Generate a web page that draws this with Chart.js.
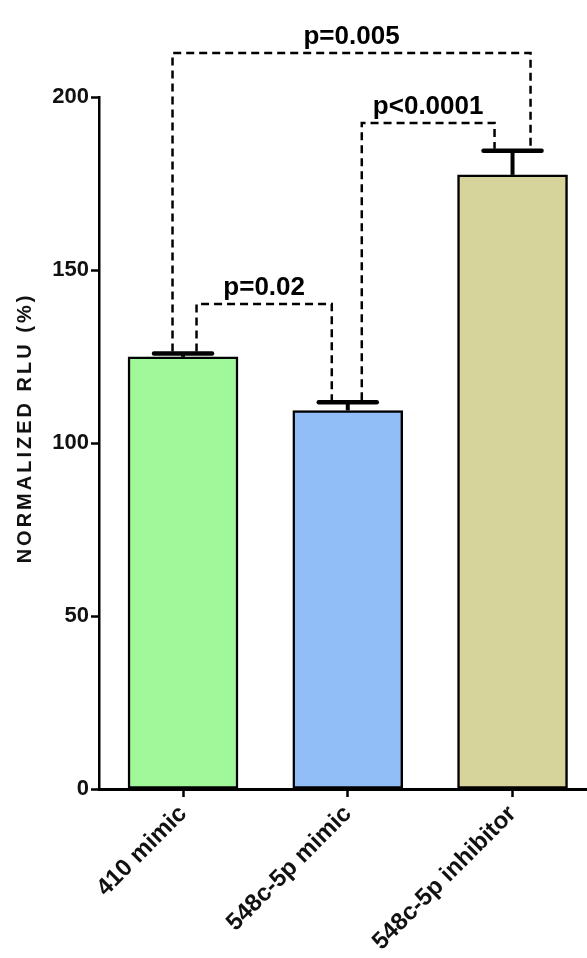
<!DOCTYPE html>
<html>
<head>
<meta charset="utf-8">
<script src="https://cdn.jsdelivr.net/npm/chart.js@4.4.1/dist/chart.umd.min.js"></script>
<style>
  html, body { margin: 0; padding: 0; background: #ffffff; }
  #wrap { width: 587px; height: 958px; }
</style>
</head>
<body>
<div id="wrap"><canvas id="c" width="587" height="958"></canvas></div>
<script>
// ---- data ----
const categories = ['410 mimic', '548c-5p mimic', '548c-5p inhibitor'];
const means = [124.9, 109.4, 177.5];
const errors = [1.0, 2.4, 7.0];
const barColors = ['#a0f89b', '#91bef6', '#d6d39b'];
const yTicks = [0, 50, 100, 150, 200];
const yTitle = 'NORMALIZED RLU (%)';
// significance brackets: between categories, bracket height (y units), label
const bracketFrom = [0, 1, 0];
const bracketTo = [1, 2, 2];
const bracketLevel = [140.2, 192.5, 212.7];
const bracketLabel = ['p=0.02', 'p<0.0001', 'p=0.005'];

// style: horizontal offsets (px) of bracket legs from bar centres
const legOffsets = [[13.5, -16], [14, -18], [-10.5, 18]];

const FONT = '"Liberation Sans", Arial, sans-serif';

const errorBarPlugin = {
  id: 'errorBars',
  afterDatasetsDraw(chart) {
    const ctx = chart.ctx;
    const meta = chart.getDatasetMeta(0);
    const ys = chart.scales.y;
    ctx.save();
    ctx.strokeStyle = '#000';
    meta.data.forEach((bar, i) => {
      const yTop = ys.getPixelForValue(means[i] + errors[i]);
      const yBar = ys.getPixelForValue(means[i]);
      ctx.lineWidth = 4;
      ctx.beginPath();
      ctx.moveTo(bar.x, yBar);
      ctx.lineTo(bar.x, yTop);
      ctx.stroke();
      ctx.lineWidth = 4.5;
      ctx.lineCap = 'round';
      ctx.beginPath();
      ctx.moveTo(bar.x - 29, yTop);
      ctx.lineTo(bar.x + 29, yTop);
      ctx.stroke();
      ctx.lineCap = 'butt';
    });
    ctx.restore();
  }
};

const bracketPlugin = {
  id: 'brackets',
  afterDraw(chart) {
    const ctx = chart.ctx;
    const meta = chart.getDatasetMeta(0);
    const ys = chart.scales.y;
    ctx.save();
    ctx.strokeStyle = '#000';
    ctx.fillStyle = '#000';
    ctx.lineWidth = 2.5;
    ctx.setLineDash([8, 5]);
    bracketLabel.forEach((lab, k) => {
      const a = bracketFrom[k], b = bracketTo[k];
      const xa = meta.data[a].x + legOffsets[k][0];
      const xb = meta.data[b].x + legOffsets[k][1];
      const yl = ys.getPixelForValue(bracketLevel[k]);
      const ya = ys.getPixelForValue(means[a] + errors[a]) - 2;
      const yb = ys.getPixelForValue(means[b] + errors[b]) - 2;
      ctx.beginPath();
      ctx.moveTo(xa, ya);
      ctx.lineTo(xa, yl);
      ctx.lineTo(xb, yl);
      ctx.lineTo(xb, yb);
      ctx.stroke();
      ctx.font = 'bold 26px ' + FONT;
      ctx.textAlign = 'center';
      ctx.textBaseline = 'alphabetic';
      ctx.fillText(lab, (xa + xb) / 2, yl - 9);
    });
    ctx.restore();
  }
};

const titlePlugin = {
  id: 'yTitle',
  afterDraw(chart) {
    const ctx = chart.ctx;
    ctx.save();
    ctx.translate(25, 428);
    ctx.rotate(-Math.PI / 2);
    ctx.font = 'bold 20px ' + FONT;
    if ('letterSpacing' in ctx) ctx.letterSpacing = '3px';
    ctx.fillStyle = '#111';
    ctx.textAlign = 'center';
    ctx.textBaseline = 'middle';
    ctx.fillText(yTitle, 0, 0);
    ctx.restore();
  }
};

new Chart(document.getElementById('c'), {
  type: 'bar',
  data: {
    datasets: [{
      data: means.map((v, i) => ({ x: i, y: v })),
      backgroundColor: barColors,
      borderColor: '#000',
      borderWidth: 2.5,
      borderSkipped: false,
      barThickness: 110
    }]
  },
  options: {
    responsive: false,
    animation: false,
    devicePixelRatio: 1,
    layout: { padding: { top: 97, right: 0, bottom: 0, left: 0 } },
    plugins: { legend: { display: false }, tooltip: { enabled: false } },
    scales: {
      x: {
        type: 'linear',
        offset: false,
        min: -0.51,
        max: 2.452,
        afterFit(s) { s.height = 169; },
        grid: { display: true, offset: false, drawOnChartArea: false, drawTicks: true, tickLength: 8, tickWidth: 2.5, tickColor: '#000' },
        border: { display: true, color: '#000', width: 3 },
        ticks: {
          stepSize: 1,
          includeBounds: false,
          autoSkip: false,
          maxRotation: 45,
          minRotation: 45,
          padding: 3,
          color: '#111',
          font: { family: FONT, size: 24, weight: 'bold' },
          callback: (v) => (Number.isInteger(v) && categories[v] !== undefined) ? categories[v] : ''
        }
      },
      y: {
        min: 0,
        max: 200,
        afterFit(s) { s.width = 99; },
        afterBuildTicks(s) { s.ticks = yTicks.map(v => ({ value: v })); },
        grid: { display: true, drawOnChartArea: false, drawTicks: true, tickLength: 8, tickWidth: 2.5, tickColor: '#000' },
        border: { display: true, color: '#000', width: 2.5 },
        ticks: {
          padding: 2,
          color: '#111',
          font: { family: FONT, size: 22, weight: 'bold' }
        }
      }
    }
  },
  plugins: [errorBarPlugin, bracketPlugin, titlePlugin]
});
</script>
</body>
</html>
